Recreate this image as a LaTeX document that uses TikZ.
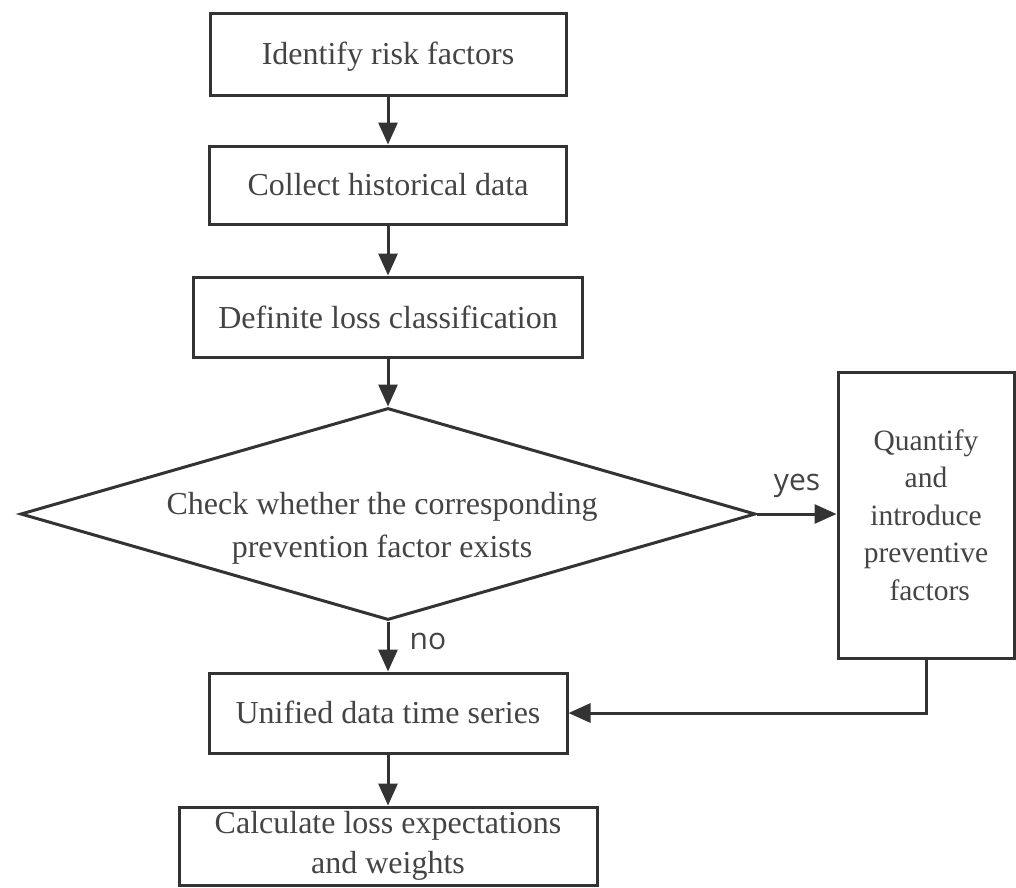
\documentclass[tikz,border=0pt]{standalone}
\usepackage{fontspec}
\setmainfont{Liberation Serif}
\newfontfamily\labelfont{Open Sans}
\usetikzlibrary{arrows.meta,shapes.geometric}
\definecolor{linec}{RGB}{51,51,51}
\definecolor{textc}{RGB}{68,68,68}
\begin{document}
\begin{tikzpicture}[x=1pt,y=-1pt,
  box/.style={draw=linec,line width=3pt,rectangle,inner sep=0pt,text=textc,align=center,
    font=\fontsize{32}{40}\selectfont},
  low/.style={text height=22pt,text depth=2pt},
  decision/.style={draw=linec,line width=3pt,diamond,inner sep=0pt,aspect=3.47,
    minimum width=735pt,minimum height=212pt},
  dtxt/.style={text=textc,align=center,inner sep=0pt,font=\fontsize{32}{43}\selectfont},
  arr/.style={draw=linec,line width=3pt,-{Triangle[length=22pt,width=19pt]}},
  lbl/.style={text=textc,font=\labelfont\fontsize{30}{34}\selectfont,inner sep=0pt}]
\useasboundingbox (0,0) rectangle (1016,887);
\node[box,low,minimum width=356pt,minimum height=82pt] (b1) at (388,54) {Identify risk factors};
\node[box,low,minimum width=357pt,minimum height=78pt] (b2) at (388,185) {Collect historical data};
\node[box,minimum width=389pt,minimum height=80pt] (b3) at (388,317) {Definite loss classification};
\node[decision] (d) at (388,514) {};
\node[dtxt] (dt) at (382,528) {Check whether the corresponding\\prevention factor exists};
\node[box,minimum width=176pt,minimum height=286pt,font=\fontsize{29.5}{37.5}\selectfont] (q) at (926,515) {Quantify\\and\\introduce\\preventive\\\ factors};
\node[box,low,minimum width=358pt,minimum height=80pt] (u) at (388,713) {Unified data time series};
\node[box,minimum width=418pt,minimum height=78pt] (c) at (388,846) {Calculate loss expectations\\and weights};
\draw[arr] (b1) -- (b2);
\draw[arr] (b2) -- (b3);
\draw[arr] (b3) -- (d);
\draw[arr] (d.east) -- (q.west |- d.east);
\draw[arr] (d) -- (u);
\draw[arr] (q.south) |- (u.east);
\draw[arr] (u) -- (c);
\node[lbl] (yes) at (797,486) {yes};
\node[lbl] (no) at (428,641) {no};
\end{tikzpicture}
\end{document}
